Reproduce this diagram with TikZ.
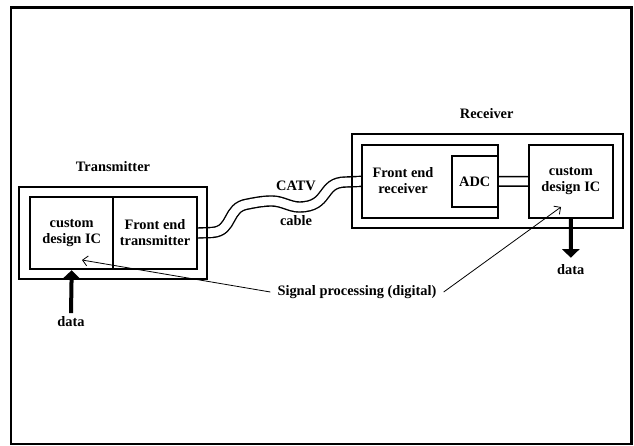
\documentclass[tikz,border=0pt]{standalone}
\usepackage{fontspec}
\setmainfont{Liberation Serif}
\usetikzlibrary{arrows.meta}
\pgfdeclarelayer{bg}
\pgfsetlayers{bg,main}
\begin{document}
\begin{tikzpicture}[x=1pt,y=-1pt,
  every node/.style={font=\fontsize{14.4}{16}\selectfont\bfseries, inner sep=0pt},
  box/.style={draw, line width=1.8pt, minimum width=#1},
  lbl/.style={align=center},
  cable/.style={draw, double, line width=1.4pt, double distance=8.6pt},
  link/.style={draw, double, line width=1.5pt, double distance=8pt},
  thinarrow/.style={line width=0.8pt, -{Straight Barb[length=5pt,width=10pt]}},
  dataarrow/.style={line width=4pt, -{Triangle[length=8.5pt,width=17pt]}}]
\useasboundingbox (0,0) rectangle (634,446);
\draw[line width=2.4pt] (11,7.5) rectangle (631.5,444);

% Transmitter
\node[box=188pt, minimum height=92.6pt] (txouter) at (113,233) {};
\node[box=83.3pt, minimum height=72.6pt, lbl] (txic) at (71.7,233) {custom\\design IC};
\node[box=83.4pt, minimum height=72.6pt, lbl] (txfe) at (155,233) {Front end\\transmitter};
\node (txtitle) at (113,166.7) {Transmitter};

% Receiver
\node[box=271pt, minimum height=93.4pt] (rxouter) at (487.8,181) {};
\node[box=135.4pt, minimum height=72.7pt] (rxfe) at (430,181.35) {};
\node[lbl] (rxfetext) at (403,180.5) {Front end\\receiver};
\node[box=46pt, minimum height=51.6pt] (adc) at (474.7,181.5) {ADC};
\node[box=83.7pt, minimum height=72.7pt, lbl] (rxic) at (570.85,181.35) {custom\\design IC};
\node (rxtitle) at (486.7,114) {Receiver};

% cable labels
\node (catv) at (296,186) {CATV};
\node (cablelbl) at (296,221) {cable};

\begin{pgfonlayer}{bg}
\draw[cable] (txfe.east) -- (212,232.5)
  .. controls (234,231) and (226,207) .. (248,204)
  .. controls (258,202) and (264,201) .. (272,201)
  .. controls (282,201) and (290,207) .. (299,207)
  .. controls (330,207) and (320,182) .. (346,182) -- (rxfe.west);
\draw[link] (adc.east) -- (rxic.west);
\end{pgfonlayer}

% data arrows
\node[inner sep=3pt] (txdata) at (71,321.3) {data};
\draw[dataarrow] (txdata.north) -- (txic.south);
\node[inner sep=3pt] (rxdata) at (570.8,270) {data};
\draw[dataarrow] (rxic.south) -- ([yshift=4pt]rxdata.north);

% signal processing
\node[inner sep=7pt] (sp) at (357,292) {Signal processing (digital)};
\coordinate (txsig) at (82,260);
\coordinate (rxsig) at (561,207);
\draw[thinarrow] (sp.west) -- (txsig);
\draw[thinarrow] (sp.east) -- (rxsig);
\end{tikzpicture}
\end{document}
